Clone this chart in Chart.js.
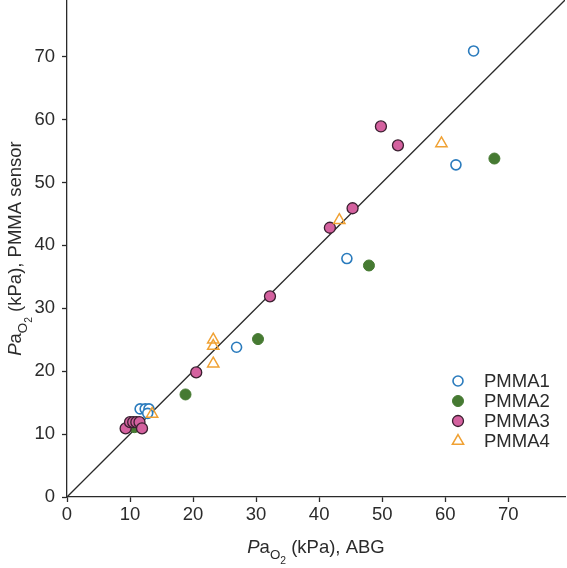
<!DOCTYPE html>
<html>
<head>
<meta charset="utf-8">
<script src="https://cdn.jsdelivr.net/npm/chart.js@4.4.0/dist/chart.umd.min.js"></script>
<style>
  html, body { margin: 0; padding: 0; background: #fff; }
  #wrap { width: 567px; height: 568px; }
</style>
</head>
<body>
<div id="wrap"><canvas id="c" width="567" height="568"></canvas></div>
<script>
// ---- Data (PaO2 ABG vs PaO2 PMMA sensor, kPa) ----
const seriesNames = ['PMMA1', 'PMMA2', 'PMMA3', 'PMMA4'];

const pmma1X = [11.6, 12.4, 13.0, 12.8, 26.9, 44.4, 61.7, 64.5];
const pmma1Y = [14.0, 14.0, 14.0, 13.3, 23.8, 37.9, 52.8, 70.9];

const pmma2X = [10.7, 18.8, 30.3, 47.9, 67.8];
const pmma2Y = [11.1, 16.3, 25.1, 36.8, 53.8];

const pmma3X = [9.3, 10.0, 10.5, 11.0, 11.5, 11.9, 20.5, 32.2, 41.7, 45.3, 49.8, 52.5];
const pmma3Y = [10.9, 11.9, 11.9, 11.9, 11.9, 10.9, 19.8, 31.9, 42.8, 45.9, 58.9, 55.9];

const pmma4X = [13.5, 23.2, 23.2, 23.2, 43.2, 59.4];
const pmma4Y = [13.2, 25.0, 24.0, 21.2, 44.0, 56.2];

const identityLine = [0, 79];
const tickValues = [0, 10, 20, 30, 40, 50, 60, 70];

const toPts = (xs, ys) => xs.map((x, i) => ({ x: x, y: ys[i] }));

const FONT = '"Liberation Sans", Arial, Helvetica, sans-serif';
const styles = [
  { pointStyle: 'circle', backgroundColor: '#ffffff', borderColor: '#2a7bbd', borderWidth: 1.6, radius: 5 },
  { pointStyle: 'circle', backgroundColor: '#467a32', borderColor: '#467a32', borderWidth: 1, radius: 5.5 },
  { pointStyle: 'circle', backgroundColor: '#d4619f', borderColor: '#3a2030', borderWidth: 1.3, radius: 5.5 },
  { pointStyle: 'triangle', backgroundColor: 'rgba(255,255,255,0)', borderColor: '#f0a133', borderWidth: 1.5, radius: 6.5 }
];
const seriesData = [toPts(pmma1X, pmma1Y), toPts(pmma2X, pmma2Y), toPts(pmma3X, pmma3Y), toPts(pmma4X, pmma4Y)];

const datasets = seriesNames.map((name, i) => ({
  type: 'scatter',
  label: name,
  data: seriesData[i],
  pointStyle: styles[i].pointStyle,
  pointRadius: styles[i].radius,
  pointHoverRadius: styles[i].radius,
  pointBackgroundColor: styles[i].backgroundColor,
  pointBorderColor: styles[i].borderColor,
  pointBorderWidth: styles[i].borderWidth,
  order: 4 - i
}));
datasets.push({
  type: 'line',
  label: 'identity',
  data: identityLine.map(v => ({ x: v, y: v })),
  borderColor: '#2a2a2a',
  borderWidth: 1.3,
  pointRadius: 0,
  fill: false,
  order: 10
});

function drawRich(ctx, segs, x, y, align, baseSize) {
  // segs: [text, sizeFactor, italic, baselineShift]
  let total = 0;
  const widths = segs.map(s => {
    ctx.font = (s[2] ? 'italic ' : '') + (baseSize * s[1]) + 'px ' + FONT;
    const w = ctx.measureText(s[0]).width;
    total += w;
    return w;
  });
  let cx = align === 'center' ? x - total / 2 : x;
  segs.forEach((s, i) => {
    ctx.font = (s[2] ? 'italic ' : '') + (baseSize * s[1]) + 'px ' + FONT;
    ctx.fillText(s[0], cx, y + s[3]);
    cx += widths[i];
  });
}

const titleSegs = (rest) => [
  ['P', 1, true, 0],
  ['a', 1, false, 0],
  ['O', 0.72, false, 6],
  ['2', 0.56, false, 11],
  [' ' + rest, 1, false, 0]
];

const extras = {
  id: 'extras',
  afterDraw(chart) {
    const ctx = chart.ctx;
    const ca = chart.chartArea;
    ctx.save();
    ctx.fillStyle = '#2b2b2b';
    ctx.textBaseline = 'alphabetic';
    ctx.textAlign = 'left';
    // x title
    drawRich(ctx, titleSegs('(kPa), ABG'), (ca.left + ca.right) / 2, 553, 'center', 18.5);
    // y title
    ctx.save();
    ctx.translate(21, (ca.top + ca.bottom) / 2);
    ctx.rotate(-Math.PI / 2);
    drawRich(ctx, titleSegs('(kPa), PMMA sensor'), 0, 0, 'center', 18.5);
    ctx.restore();
    // legend
    const rows = [381, 401, 421, 441];
    seriesNames.forEach((name, i) => {
      const st = styles[i];
      ctx.save();
      ctx.fillStyle = st.backgroundColor;
      ctx.strokeStyle = st.borderColor;
      ctx.lineWidth = st.borderWidth;
      Chart.helpers.drawPoint(ctx, { pointStyle: st.pointStyle, radius: st.radius, borderWidth: st.borderWidth }, 458, rows[i]);
      ctx.restore();
      ctx.font = '18.5px ' + FONT;
      ctx.fillStyle = '#2b2b2b';
      ctx.textBaseline = 'middle';
      ctx.fillText(name, 484, rows[i] + 1);
    });
    ctx.restore();
  }
};

new Chart(document.getElementById('c'), {
  data: { datasets: datasets },
  options: {
    responsive: false,
    devicePixelRatio: 1,
    animation: false,
    layout: { autoPadding: false, padding: { left: 0, right: 2, top: 0, bottom: 0 } },
    plugins: { legend: { display: false }, tooltip: { enabled: false } },
    scales: {
      x: {
        type: 'linear',
        min: 0, max: 79,
        afterBuildTicks: (s) => { s.ticks = tickValues.map(v => ({ value: v })); },
        afterFit: (s) => { s.height = 71; s.paddingLeft = 0; s.paddingRight = 0; },
        border: { display: true, color: '#2a2a2a', width: 1.3 },
        grid: { display: true, drawOnChartArea: false, drawTicks: true, tickLength: 5, color: '#2a2a2a', tickColor: '#2a2a2a', tickWidth: 1.3 },
        ticks: { color: '#2b2b2b', font: { family: FONT, size: 18.5 }, padding: 2, maxRotation: 0 }
      },
      y: {
        type: 'linear',
        min: 0, max: 79,
        afterBuildTicks: (s) => { s.ticks = tickValues.map(v => ({ value: v })); },
        afterFit: (s) => { s.width = 67; s.paddingTop = 0; s.paddingBottom = 0; },
        border: { display: true, color: '#2a2a2a', width: 1.3 },
        grid: { display: true, drawOnChartArea: false, drawTicks: true, tickLength: 5, color: '#2a2a2a', tickColor: '#2a2a2a', tickWidth: 1.3 },
        ticks: { color: '#2b2b2b', font: { family: FONT, size: 18.5 }, padding: 7 }
      }
    }
  },
  plugins: [extras]
});
</script>
</body>
</html>
